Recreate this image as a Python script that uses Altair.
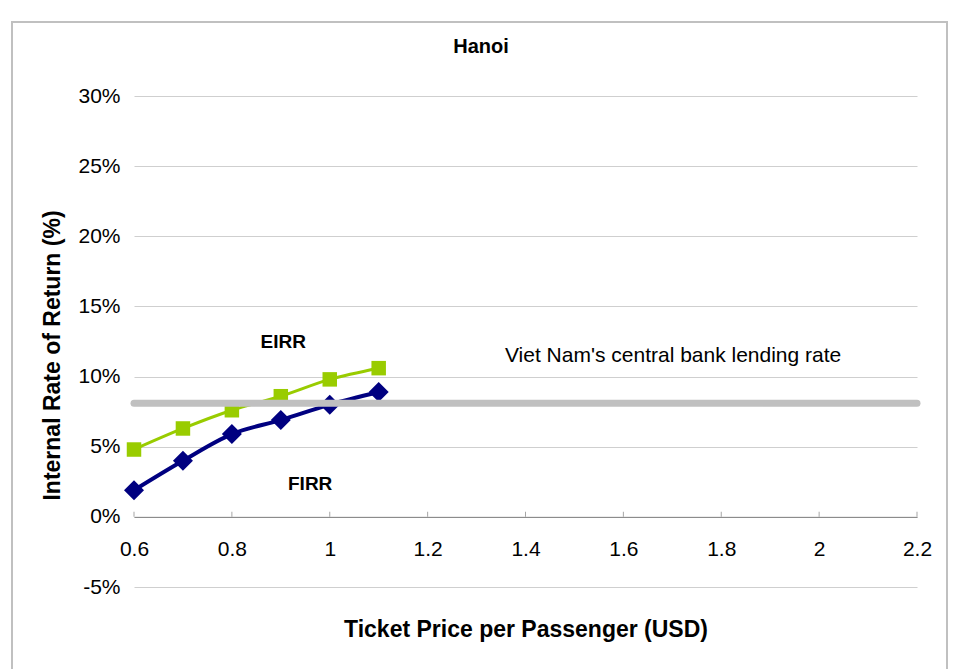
import altair as alt
import pandas as pd

# Ticket price (USD) and the resulting internal rates of return
price = [0.6, 0.7, 0.8, 0.9, 1.0, 1.1]
eirr = [0.048, 0.063, 0.076, 0.086, 0.098, 0.106]
firr = [0.019, 0.040, 0.059, 0.069, 0.080, 0.089]

# Central bank lending rate, drawn across the whole price range
lending_rate = 0.081
lending_span = [0.6, 2.2]

x_ticks = [0.6, 0.8, 1.0, 1.2, 1.4, 1.6, 1.8, 2.0, 2.2]
y_ticks = [-0.05, 0.0, 0.05, 0.10, 0.15, 0.20, 0.25, 0.30]
y_domain = [-0.05, 0.30]

# Annotation labels: text, price position, rate position
label_text = ["EIRR", "FIRR"]
label_price = [0.905, 0.96]
label_irr = [0.1247, 0.0235]
note_text = ["Viet Nam's central bank lending rate"]
note_price = [1.358]
note_irr = [0.1147]
chart_title = "Hanoi"

W, H = 783, 491
FONT = "Liberation Sans"
GREEN = "#99CC00"
NAVY = "#000080"
GREY = "#C0C0C0"

eirr_df = pd.DataFrame({"price": price, "irr": eirr})
firr_df = pd.DataFrame({"price": price, "irr": firr})
rate_df = pd.DataFrame({"price": [lending_span[0]], "price2": [lending_span[1]], "irr": [lending_rate]})
tick_df = pd.DataFrame({"price": x_ticks, "irr": [0.0] * len(x_ticks)})
label_df = pd.DataFrame({"price": label_price, "irr": label_irr, "text": label_text})
note_df = pd.DataFrame({"price": note_price, "irr": note_irr, "text": note_text})
title_df = pd.DataFrame({"text": [chart_title]})

# the x axis sits on the 0% line
zero_offset = -H * (0 - y_domain[0]) / (y_domain[1] - y_domain[0])

x_axis = alt.Axis(
    values=x_ticks, format="~g", offset=zero_offset,
    domain=True, domainColor="#808080", domainWidth=1,
    ticks=False, grid=False, labelFlush=False,
    labelFont=FONT, labelFontSize=21, labelColor="#000000", labelPadding=22,
    title="Ticket Price per Passenger (USD)",
    titleFont=FONT, titleFontSize=23, titleFontWeight="bold", titleColor="#000000",
    titleBaseline="alphabetic", titleY=120,
)
y_axis = alt.Axis(
    values=y_ticks, labelExpr="round(datum.value * 100) + '%'",
    domain=False, ticks=False, grid=True, gridColor="#CFCFCF", gridWidth=1,
    labelFont=FONT, labelFontSize=21, labelColor="#000000", labelPadding=14,
    title="Internal Rate of Return (%)",
    titleFont=FONT, titleFontSize=23, titleFontWeight="bold", titleColor="#000000",
    titleAngle=-90, titleAlign="center", titleBaseline="middle",
    titleX=-82, titleY=259,
)

X = alt.X("price:Q", scale=alt.Scale(domain=lending_span, nice=False, zero=False), axis=x_axis)
Y = alt.Y("irr:Q", scale=alt.Scale(domain=y_domain, nice=False, zero=False), axis=y_axis)

# outer frame around the whole chart
frame = alt.Chart(eirr_df).mark_rect(filled=False, stroke=GREY, strokeWidth=2).encode(
    x=alt.value(-122), x2=alt.value(813), y=alt.value(-74), y2=alt.value(640)
)

# chart heading, centred on the frame
heading = alt.Chart(title_df).mark_text(
    font=FONT, fontSize=20, fontWeight="bold", color="#000000", align="center", baseline="alphabetic"
).encode(x=alt.value(347), y=alt.value(-43), text="text:N")

eirr_line = alt.Chart(eirr_df).mark_line(color=GREEN, strokeWidth=3, interpolate="monotone").encode(x=X, y=Y)
eirr_pts = alt.Chart(eirr_df).mark_point(shape="square", filled=True, size=210, color=GREEN, opacity=1).encode(x=X, y=Y)
firr_line = alt.Chart(firr_df).mark_line(color=NAVY, strokeWidth=4, interpolate="monotone").encode(x=X, y=Y)
firr_pts = alt.Chart(firr_df).mark_point(shape="diamond", filled=True, size=400, color=NAVY, opacity=1).encode(x=X, y=Y)

rate_rule = alt.Chart(rate_df).mark_rule(color=GREY, strokeWidth=7, strokeCap="round").encode(
    x=X, x2="price2:Q", y=Y
)

# tick marks rise from the zero line
ticks = alt.Chart(tick_df).mark_tick(
    orient="vertical", size=5, thickness=1, color="#808080", yOffset=-2.5
).encode(x=X, y=Y)

labels = alt.Chart(label_df).mark_text(
    font=FONT, fontSize=19, fontWeight="bold", color="#000000", align="center", baseline="middle"
).encode(x=X, y=Y, text="text:N")

note = alt.Chart(note_df).mark_text(
    font=FONT, fontSize=21, color="#000000", align="left", baseline="middle"
).encode(x=X, y=Y, text="text:N")

chart = alt.layer(
    frame, eirr_line, eirr_pts, firr_line, firr_pts, rate_rule, ticks, labels, note, heading
).properties(
    width=W, height=H,
    autosize=alt.AutoSizeParams(type="none"),
    padding={"left": 134, "top": 96, "right": 42, "bottom": 82},
    background="#FFFFFF",
).configure_view(stroke=None)

chart.save("out.html", embed_options={"renderer": "svg", "actions": False})
